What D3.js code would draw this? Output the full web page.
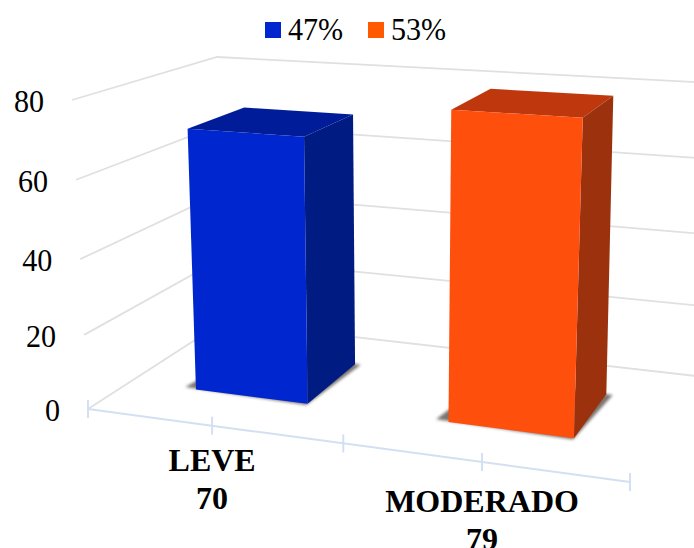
<!DOCTYPE html>
<html><head><meta charset="utf-8">
<script src="https://cdn.jsdelivr.net/npm/d3@7"></script>
<style>html,body{margin:0;padding:0;background:#fff}svg{display:block}text{font-family:"Liberation Serif",serif;fill:#000}</style>
</head><body><div id="chart"></div>
<script>
const categories = ["LEVE", "MODERADO"];
const counts = [70, 79];
const shares = ["47%", "53%"];
const valueTicks = [0, 20, 40, 60, 80];
const frontColors = ["#0026cf", "#ff4f10"];
const topColors = ["#001c98", "#bf390b"];
const sideColors = ["#001a82", "#9c300a"];
const legendColors = ["#0026cf", "#ff5a00"];

const W = 694, H = 548;
const svg = d3.select("#chart").append("svg").attr("width", W).attr("height", H);
const defs = svg.append("defs");
defs.append("filter").attr("id", "soft").attr("filterUnits", "userSpaceOnUse").attr("x", 0).attr("y", 0).attr("width", W).attr("height", H)
  .append("feGaussianBlur").attr("stdDeviation", 0.55);
defs.append("filter").attr("id", "shadow").attr("x", "-20%").attr("y", "-20%").attr("width", "140%").attr("height", "140%")
  .append("feGaussianBlur").attr("stdDeviation", 1.8);

// box corners of the 3D plot: [u, depth] at value 0 and value at top
const floorX = [[88, 223], [630, 696]], floorY = [[409, 322], [482, 376]];
const roofX = [[72, 217], [645, 704]], roofY = [[100, 57], [135, 82.5]];
const valueFrac = d3.scaleLinear().domain(valueTicks).range([0, .24, .485, .742, 1]);
const uWarp = d3.scaleLinear().domain([0, .25, .5, .75, 1]).range([0, .229, .471, .727, 1]);
const band = d3.scaleBand().domain(categories).range([0, 1]).paddingInner(.544).paddingOuter(.272);
const lerp = (a, b, t) => d3.interpolateNumber(a, b)(t);
function bi(c, u, d) { return lerp(lerp(c[0][0], c[1][0], u), lerp(c[0][1], c[1][1], u), d); }
function project(u0, d, v) {
  const u = uWarp(u0), t = valueFrac(v);
  return [lerp(bi(floorX, u, d), bi(roofX, u, d), t), lerp(bi(floorY, u, d), bi(roofY, u, d), t)];
}
const line = d3.line();
const area = pts => line(pts) + "Z";
const barFront = .32, barBack = .745;
// The reference's regular text is slightly condensed horizontally
function condense(sel, k) {
  sel.attr("textLength", sel.node().getComputedTextLength() * k).attr("lengthAdjust", "spacingAndGlyphs");
}

const soft = svg.append("g").attr("filter", "url(#soft)");
// gridlines
const grid = soft.append("g");
valueTicks.forEach(v => {
  grid.append("path").attr("d", line([project(0, 0, v), project(0, 1, v), project(1, 1, v)]))
    .attr("fill", "none").attr("stroke", "#e0e0e0").attr("stroke-width", 1.8);
});
// floor axis
const axisG = soft.append("g").attr("stroke", "#d3e0f2").attr("stroke-width", 2).attr("fill", "none");
axisG.append("path").attr("d", line([project(0, 0, 0), project(1, 0, 0)]));
[0, .25, .5, .75, 1].forEach(u => {
  const p = project(u, 0, 0);
  axisG.append("path").attr("d", line([[p[0], p[1] - 9], [p[0], p[1] + 9]]));
});
// bars
categories.forEach((c, i) => {
  const u0 = band(c), u1 = u0 + band.bandwidth(), v = counts[i], d0 = barFront, d1 = barBack;
  soft.append("path").attr("filter", "url(#shadow)").attr("fill", "#7a7570")
    .attr("d", area([project(u0 - .025, d0 + .01, 0), project(u1, d0 - .012, 0), project(u1 + .012, d1, 0), project(u0, d1, 0)]));
  soft.append("path").attr("fill", topColors[i])
    .attr("d", area([project(u0, d0, v), project(u1, d0, v), project(u1, d1, v), project(u0, d1, v)]));
  soft.append("path").attr("fill", sideColors[i])
    .attr("d", area([project(u1, d0, 0), project(u1, d0, v), project(u1, d1, v), project(u1, d1, 0)]));
  soft.append("path").attr("fill", frontColors[i])
    .attr("d", area([project(u0, d0, 0), project(u1, d0, 0), project(u1, d0, v), project(u0, d0, v)]));
});
// value labels
valueTicks.forEach(v => {
  const p = project(0, 0, v);
  const t = svg.append("text").attr("x", p[0] - 28).attr("y", p[1] + 12).attr("text-anchor", "end")
    .attr("font-size", 32).text(v);
  condense(t, .94);
});
// category labels
const labelShift = d3.scaleLinear().domain([.25, .75]).range([45, 50]);
categories.forEach((c, i) => {
  const u = band(c) + band.bandwidth() / 2, p = project(u, 0, 0);
  const t = svg.append("text").attr("text-anchor", "middle").attr("font-size", 32).attr("font-weight", "bold");
  t.append("tspan").attr("x", p[0]).attr("y", p[1] + labelShift(u)).text(c);
  t.append("tspan").attr("x", p[0]).attr("dy", 38).text(counts[i]);
});
// legend
const legendX = d3.scalePoint().domain(shares).range([265, 368]);
shares.forEach((s, i) => {
  svg.append("rect").attr("x", legendX(s)).attr("y", 22).attr("width", 16).attr("height", 16).attr("fill", legendColors[i]);
  const t = svg.append("text").attr("x", legendX(s) + 23).attr("y", 40).attr("font-size", 32).text(s);
  condense(t, .94);
});
</script></body></html>
